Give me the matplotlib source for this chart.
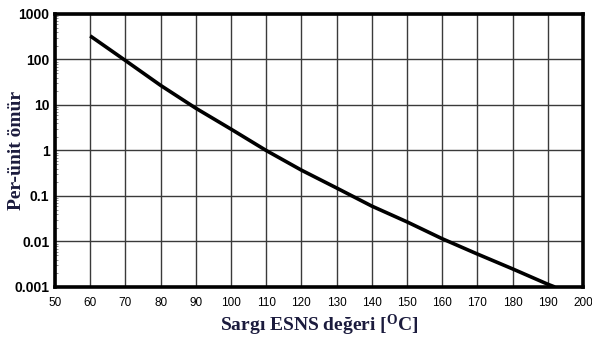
import matplotlib.pyplot as plt
from matplotlib.ticker import FixedLocator, LogLocator, NullFormatter

# sargi sicakligi (C) ve per-unit omur
sicaklik = [60, 70, 80, 90, 100, 110, 120, 130, 140, 150, 160, 170, 180, 190, 192]
omur = [330, 95, 27, 8.5, 2.95, 1.0, 0.37, 0.15, 0.06, 0.027, 0.0115, 0.0053, 0.0025, 0.00115, 0.001]

x_ticks = list(range(50, 201, 10))
y_ticks = [0.001, 0.01, 0.1, 1, 10, 100, 1000]
y_labels = ["0.001", "0.01", "0.1", "1", "10", "100", "1000"]

fig = plt.figure(figsize=(5.92, 3.38), dpi=100)
ax = fig.add_axes([0.0929, 0.1509, 0.8919, 0.8077])

ax.plot(sicaklik, omur, color="black", lw=2.6, solid_capstyle="butt")

ax.set_yscale("log")
ax.set_xlim(50, 200)
ax.set_ylim(0.001, 1000)

ax.xaxis.set_major_locator(FixedLocator(x_ticks))
ax.set_yticks(y_ticks)
ax.set_yticklabels(y_labels)
ax.yaxis.set_minor_locator(LogLocator(base=10, subs=range(2, 10)))
ax.yaxis.set_minor_formatter(NullFormatter())

ax.grid(True, which="major", color="#3a3a3a", lw=1.0)
ax.tick_params(axis="x", which="major", length=0, pad=7, labelsize=8.5)
ax.tick_params(axis="y", which="major", length=0, pad=4, labelsize=10)
ax.tick_params(axis="y", which="minor", direction="in", length=2, width=0.6, color="#777777")
for lab in ax.get_xticklabels():
    lab.set_family("Liberation Sans")
for lab in ax.get_yticklabels():
    lab.set_family("Liberation Sans")
    lab.set_fontweight("bold")

for s in ax.spines.values():
    s.set_linewidth(2.6)

renk = "#1b1b3d"
ax.set_xlabel("Sargı ESNS değeri [$\\mathregular{^{O}}$C]", family="Liberation Serif",
              fontweight="bold", fontsize=14, color=renk)
ax.xaxis.set_label_coords(0.5, -0.14)
ax.xaxis.label.set_va("center")
ax.set_ylabel("Per-ünit ömür", family="Liberation Serif", fontweight="bold",
              fontsize=14, color=renk)
ax.yaxis.set_label_coords(-0.072, 0.5)
ax.yaxis.label.set_va("center")

fig.savefig("out.png", dpi=100)
